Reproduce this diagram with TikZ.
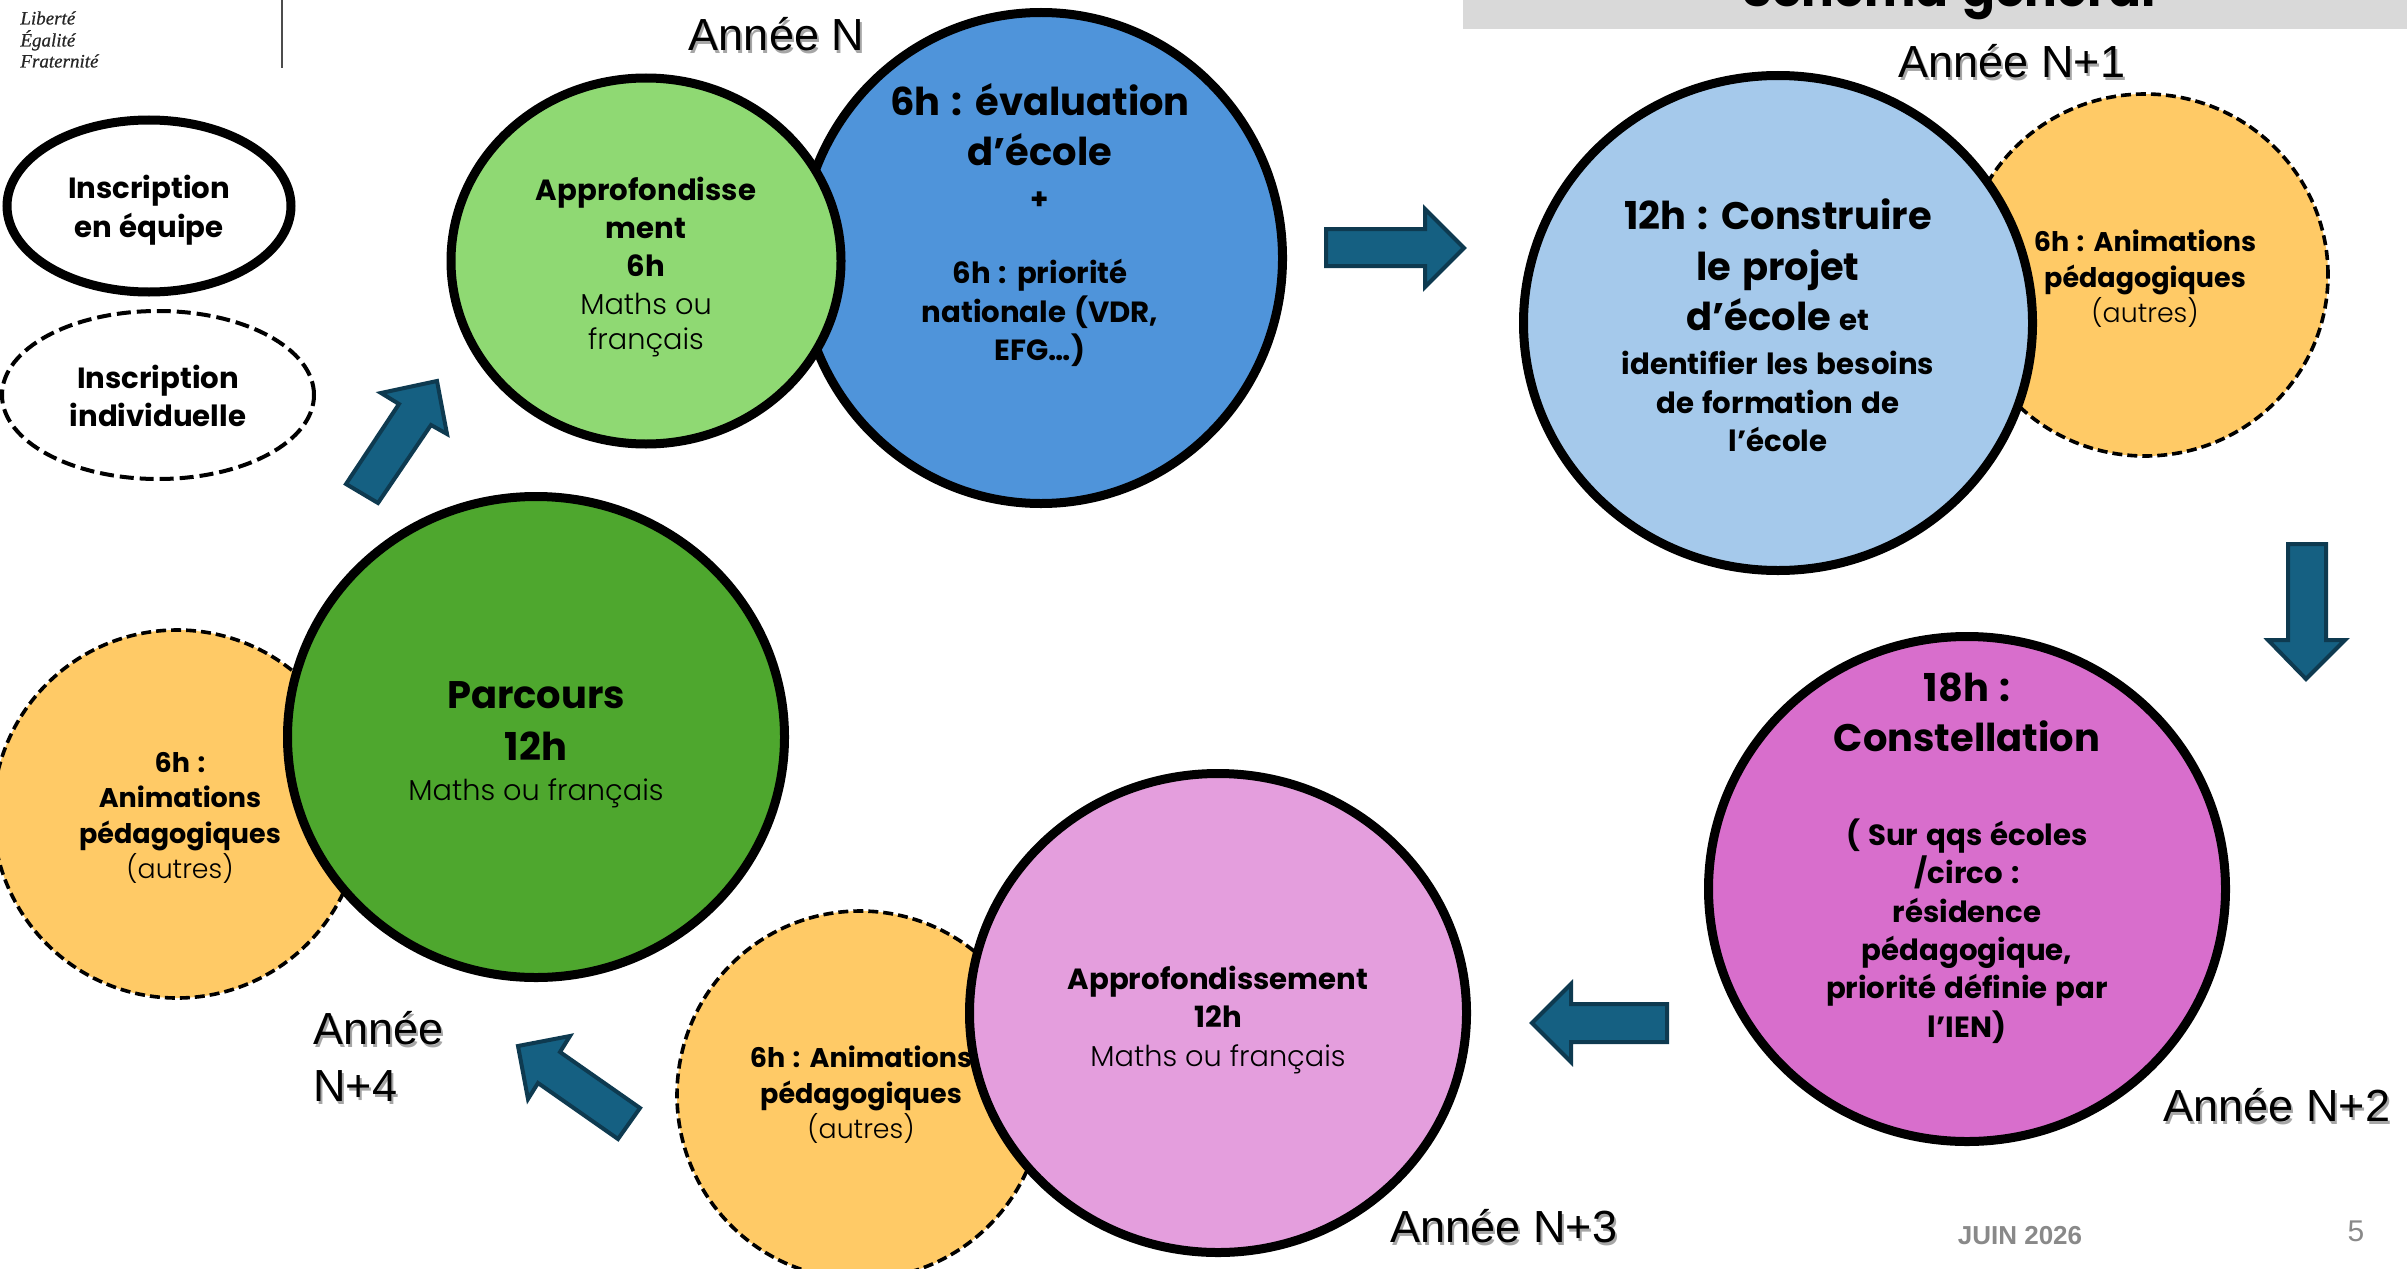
\documentclass[tikz,border=0pt]{standalone}
\usepackage{fontspec}
\usetikzlibrary{shapes.geometric}
\setmainfont{Poppins}[BoldFont={Poppins Bold},WordSpace=1.3]
\newfontfamily\lightface{Poppins Light}
\newfontfamily\annee{Liberation Sans}
\newfontfamily\logoface[FakeBold=0.6]{Liberation Serif}
\definecolor{cbleu}{HTML}{4F94DA}
\definecolor{cbleuc}{HTML}{A5C9EB}
\definecolor{cvertc}{HTML}{8FD973}
\definecolor{cvert}{HTML}{4EA72E}
\definecolor{corange}{HTML}{FFCA66}
\definecolor{cmag}{HTML}{D86ECC}
\definecolor{crose}{HTML}{E49EDD}
\definecolor{cfl}{HTML}{156082}
\definecolor{cflb}{HTML}{0E3A50}
\definecolor{cgris}{HTML}{D9D9D9}
\definecolor{cpied}{HTML}{898989}
\newcommand{\fsS}{\fontsize{14.6}{19.2}\selectfont\lineskiplimit=-20pt\relax\bfseries}
\newcommand{\fsO}{\fontsize{13.5}{17.7}\selectfont\lineskiplimit=-20pt\relax\bfseries}
\newcommand{\fsL}{\fontsize{19.2}{19.2}\selectfont\bfseries}
\newcommand{\fsT}{\lightface\mdseries\fontsize{14.4}{19.2}\selectfont}
\newcommand{\fsU}{\lightface\mdseries\fontsize{13.4}{17.7}\selectfont}
\tikzset{
  ell/.style 2 args={ellipse,minimum width=#1pt,minimum height=#2pt,inner sep=0pt,outer sep=0pt},
  plein/.style={draw=black,line width=4.5pt},
  tiret/.style={draw=black,line width=1.8pt,dash pattern=on 5pt off 2.5pt},
  fleche/.style={fill=cfl,draw=cflb,line width=2pt,miter limit=10},
  txt/.style={align=center,inner sep=0pt,font=\fsS},
  txto/.style={align=center,inner sep=0pt,font=\fsO},
  an/.style={inner sep=0pt,font=\annee\fontsize{22.5}{28.5}\selectfont,align=left},
  anombre/.style={an,text=black!35},
  logotxt/.style={anchor=base west,inner sep=0pt,font=\logoface\itshape\fontsize{9.5}{11}\selectfont,text=black!85},
}
\begin{document}
\begin{tikzpicture}[x=0.5pt,y=-0.5pt]
\useasboundingbox (0,0) rectangle (2407,1268);
\clip (0,0) rectangle (2407,1268);
% bandeau
\fill[cgris] (1463,-5) rectangle (2412,29);
\node[anchor=base,inner sep=0pt,font=\fontsize{24.3}{25}\selectfont\bfseries] (titre) at (1949,7) {Schéma général};
% logo
\node[logotxt] (lib) at (20,24.5) {Liberté};
\node[logotxt] (ega) at (20,46.5) {Égalité};
\node[logotxt] (fra) at (20,67.5) {Fraternité};
\draw[black!70,line width=1.2pt] (282,-2) -- (282,68);
% inscription
\node[ell={142}{86},plein,fill=white] (eq) at (149,206) {};
\node[txt] at (149,210) {Inscription\\en équipe};
\node[ell={156}{84},draw=black,line width=2pt,dash pattern=on 7pt off 3pt,fill=white] (ind) at (158,395) {};
\node[txt] at (158,396) {Inscription\\individuelle};
% annee N
\node[ell={241.5}{245.5},plein,fill=cbleu] (bleu) at (1041,258) {};
\node[ell={195}{183},plein,fill=cvertc] (vertc) at (646,261) {};
\node[txt] at (646,267) {Approfondisse\\ment\\6h\\[-0.5pt]{\fsT Maths ou}\\[-1.5pt]{\fsT français}};
\node[txt] at (1040,225) {{\fsL 6h : évaluation}\\[6pt]{\fsL d’école}\\[2.5pt]+\\[18pt]6h : priorité\\nationale (VDR,\\EFG…)};
% annee N+1
\node[ell={183}{181},tiret,fill=corange] (o1) at (2145,275) {};
\node[ell={254.5}{247.5},plein,fill=cbleuc] (bc) at (1778,323) {};
\node[txto] at (2145,279) {6h : Animations\\pédagogiques\\{\fsU (autres)}};
\node[txt] at (1778,325.5) {{\fsL 12h : Construire}\\[6pt]{\fsL le projet}\\[6pt]{\fsL d’école} et\\[3pt]identifier les besoins\\de formation de\\l’école};
% annee N+2
\node[ell={258.5}{252.5},plein,fill=cmag] (mag) at (1967,889) {};
\node[txt] at (1967,858) {{\fsL 18h :}\\[6pt]{\fsL Constellation}\\[27.7pt]( Sur qqs écoles\\/circo :\\résidence\\pédagogique,\\priorité définie par\\l’IEN)};
% annee N+3
\node[ell={183}{184},tiret,fill=corange] (o2) at (860,1095) {};
\node[ell={248.5}{239.5},plein,fill=crose] (rose) at (1218,1013) {};
\node[txto] at (861,1095) {6h : Animations\\pédagogiques\\{\fsU (autres)}};
\node[txt] at (1218,1020) {Approfondissement\\12h\\{\fsT Maths ou français}};
% annee N+4
\node[ell={184}{184},tiret,fill=corange] (o3) at (177,814) {};
\node[ell={248.5}{240.5},plein,fill=cvert] (vert) at (536,737) {};
\node[txto] at (180,818) {6h :\\Animations\\pédagogiques\\{\fsU (autres)}};
\node[txt] at (536,745) {{\fsL Parcours}\\[6.5pt]{\fsL 12h}\\[1pt]{\fsT Maths ou français}};
% fleches
\draw[fleche] (437,381) -- (381,393) -- (399,404) -- (346,484) -- (378,503) -- (431,425) -- (447,434) -- cycle;
\draw[fleche] (1464,248) -- (1425,209) -- (1425,229) -- (1326,229) -- (1326,266) -- (1425,266) -- (1425,287) -- cycle;
\draw[fleche] (2306,679) -- (2345,640) -- (2326,640) -- (2326,544) -- (2288,544) -- (2288,640) -- (2268,640) -- cycle;
\draw[fleche] (1532,1023) -- (1571,984) -- (1571,1004) -- (1667,1004) -- (1667,1042) -- (1571,1042) -- (1571,1062) -- cycle;
\draw[fleche] (518,1046) -- (570,1036) -- (560,1052) -- (640,1108) -- (618,1139) -- (538,1083) -- (528,1099) -- cycle;
% annees : ombre portee puis texte
\node[anombre] at (778.5,37) {Année N};
\node[anombre] at (2014,64) {Année N+1};
\node[anombre] at (2279,1108) {Année N+2};
\node[anombre] at (1506,1229) {Année N+3};
\node[anombre,anchor=west] at (315,1059) {Année\\N+4};
\node[an] (an0) at (776.5,34) {Année N};
\node[an] (an1) at (2012,61) {Année N+1};
\node[an] (an2) at (2277,1105) {Année N+2};
\node[an] (an3) at (1504,1226) {Année N+3};
\node[an,anchor=west] (an4) at (313,1056) {Année\\N+4};
% pied
\node[inner sep=0pt,text=cpied,font=\annee\bfseries\fontsize{13}{15}\selectfont] (date) at (2020,1236) {JUIN 2026};
\node[inner sep=0pt,text=cpied,font=\annee\fontsize{15}{17}\selectfont] (num) at (2356,1231) {5};
\end{tikzpicture}
\end{document}
